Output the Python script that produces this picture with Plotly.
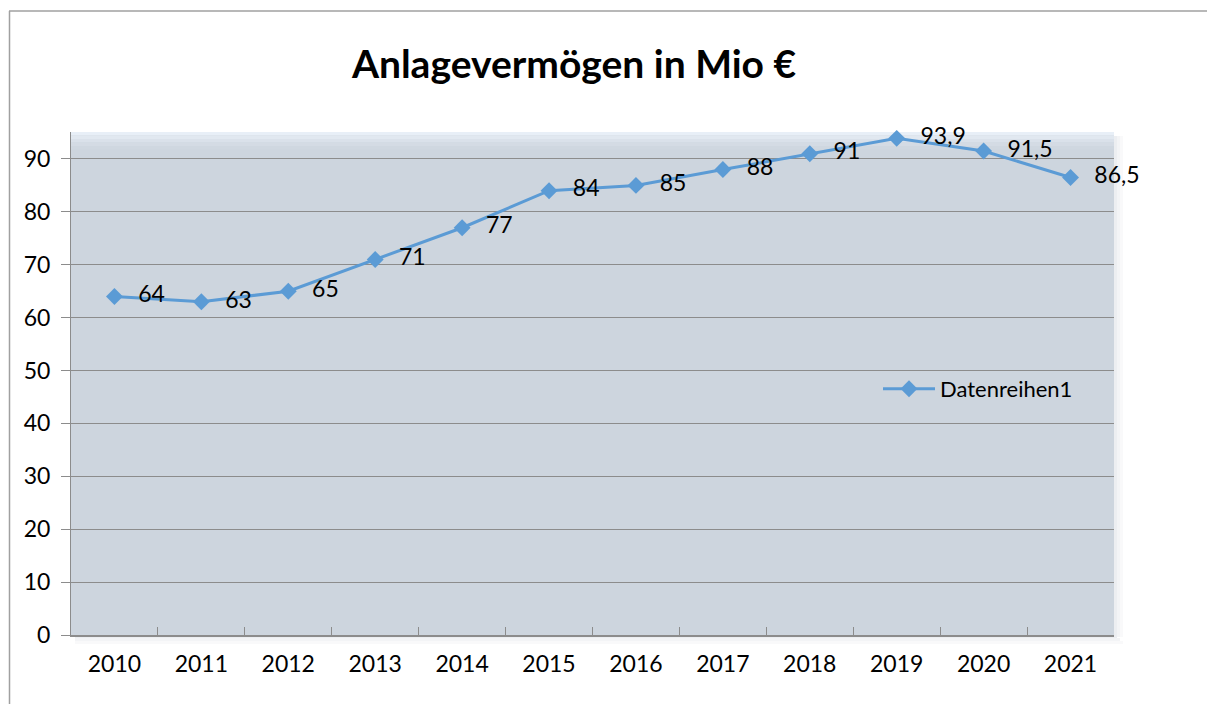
import plotly.graph_objects as go

years = ["2010", "2011", "2012", "2013", "2014", "2015", "2016", "2017", "2018", "2019", "2020", "2021"]
values = [64, 63, 65, 71, 77, 84, 85, 88, 91, 93.9, 91.5, 86.5]
y_ticks = [0, 10, 20, 30, 40, 50, 60, 70, 80, 90]
series_name = "Datenreihen1"
title_text = "Anlagevermögen in Mio €"

OFF = 8  # default page body margin
W, H = 1215 - OFF, 704 - OFF
L, R, T, B = 71 - OFF, 1114 - OFF, 132 - OFF, 635 - OFF
FONT = "Lato, 'Open Sans', sans-serif"

def fmt(v):
    return ("%g" % v).replace(".", ",")

labels = ["\u00a0\u00a0" + "\u2009" + fmt(v) for v in values]

fig = go.Figure()
fig.add_trace(go.Scatter(
    x=years, y=values, mode="lines+markers+text",
    name=series_name,
    line=dict(color="#5b9bd5", width=3),
    marker=dict(symbol="diamond", size=13, color="#5b9bd5"),
    text=labels, textposition="middle right",
    textfont=dict(family=FONT, size=23, color="#000000"),
    cliponaxis=False,
))

pw = R - L
ph = B - T
def px_x(x):
    return (x - OFF - L) / pw
def px_y(y):
    return (B - (y - OFF)) / ph

RR, BB, TT, LL = 1114, 635, 132, 71
shapes = []
for i, c in enumerate(["#eceef1", "#f3f4f6", "#f9f9fa"]):
    shapes.append(dict(type="rect", xref="paper", yref="paper", layer="below",
                       x0=px_x(RR + i * 3), x1=px_x(RR + (i + 1) * 3), y0=px_y(BB + 2), y1=px_y(TT + 4),
                       fillcolor=c, line=dict(width=0)))
    shapes.append(dict(type="rect", xref="paper", yref="paper", layer="below",
                       x0=px_x(LL + 4), x1=px_x(RR + (i + 1) * 3), y0=px_y(BB + i * 3), y1=px_y(BB + (i + 1) * 3),
                       fillcolor=c, line=dict(width=0)))
band = ["#e8eff7", "#e1e8f0", "#dae1ea", "#d4dbe4", "#cfd7e0"]
for i, c in enumerate(band):
    shapes.append(dict(type="rect", xref="paper", yref="paper", layer="below",
                       x0=0, x1=1, y0=px_y(TT + (i + 1) * 3.5), y1=px_y(TT + i * 3.5),
                       fillcolor=c, line=dict(width=0)))
shapes.append(dict(type="line", xref="paper", yref="paper",
                   x0=px_x(9.5), x1=px_x(9.5), y0=px_y(11), y1=px_y(720),
                   line=dict(color="#a0a0a0", width=1.5)))
shapes.append(dict(type="line", xref="paper", yref="paper",
                   x0=px_x(9), x1=px_x(1230), y0=px_y(11), y1=px_y(11),
                   line=dict(color="#a0a0a0", width=1.5)))

fig.update_layout(
    width=W, height=H,
    margin=dict(l=L, r=W - R, t=T, b=H - B),
    paper_bgcolor="#ffffff",
    plot_bgcolor="#cdd5de",
    font=dict(family=FONT, color="#000000"),
    title=dict(text="<b>" + title_text + "</b>", x=(574 - OFF) / W, xanchor="center",
               y=1 - (64 - OFF) / H, yanchor="middle", yref="container",
               font=dict(family=FONT, size=39, color="#000000")),
    showlegend=True,
    legend=dict(x=px_x(878), y=px_y(389), xanchor="left", yanchor="middle",
                bgcolor="rgba(0,0,0,0)", font=dict(family=FONT, size=22, color="#000000"),
                itemwidth=52),
    shapes=shapes,
    xaxis=dict(type="category", range=[-0.5, 11.5], tickson="boundaries",
               ticks="inside", ticklen=8, tickcolor="#8c8c8c", tickwidth=1,
               showline=True, linecolor="#8c8c8c", linewidth=1.5,
               showgrid=False, tickfont=dict(family=FONT, size=23, color="#000000"),
               ticklabelstandoff=8, fixedrange=True),
    yaxis=dict(range=[0, 95.1], tickvals=y_ticks, ticks="outside", ticklen=9,
               tickcolor="#8c8c8c", showline=True, linecolor="#8c8c8c", linewidth=1,
               showgrid=True, gridcolor="#8c8c8c", gridwidth=1, zeroline=False,
               tickfont=dict(family=FONT, size=23, color="#000000"),
               ticklabelstandoff=6, fixedrange=True),
)

fig.write_html("out.html")
